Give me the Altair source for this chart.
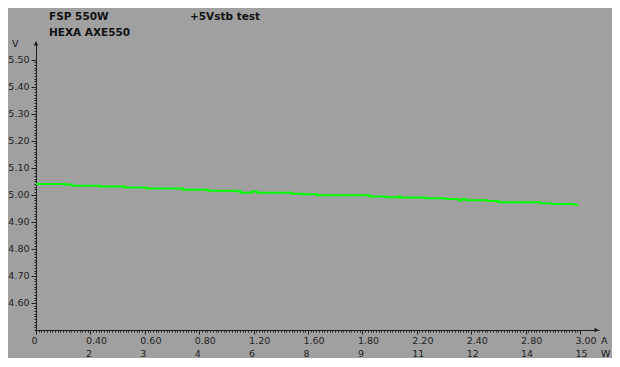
import json
import altair as alt
import numpy as np
import pandas as pd

# ---- data ----
current_a = [0.00, 0.16, 0.20, 0.35, 0.49, 0.61, 0.81, 0.95, 1.10, 1.13, 1.19, 1.22,
             1.41, 1.47, 1.55, 1.84, 1.93, 2.00, 2.01, 2.15, 2.26, 2.33, 2.35, 2.37,
             2.49, 2.55, 2.78, 2.84, 2.97, 2.99]
voltage_v = [5.040, 5.038, 5.034, 5.031, 5.027, 5.023, 5.019, 5.015, 5.013, 5.008,
             5.012, 5.008, 5.004, 5.002, 4.998, 4.994, 4.991, 4.995, 4.990, 4.987,
             4.985, 4.979, 4.985, 4.980, 4.977, 4.973, 4.969, 4.966, 4.963, 4.963]

x_tick_values = [0.0, 0.3, 0.6, 0.9, 1.2, 1.5, 1.8, 2.1, 2.4, 2.7, 3.0]
amp_labels = ["0", "0.40", "0.60", "0.80", "1.20", "1.60", "1.80", "2.20", "2.40", "2.80", "3.00"]
watt_labels = ["", "2", "3", "4", "6", "8", "9", "11", "12", "14", "15"]
y_tick_values = [4.6, 4.7, 4.8, 4.9, 5.0, 5.1, 5.2, 5.3, 5.4, 5.5]
title_left = ["FSP 550W", "HEXA AXE550"]
title_right = ["+5Vstb test"]
unit_labels = ["V", "A", "W"]

df = pd.DataFrame({"A": current_a, "V": voltage_v})

W, H = 563, 289
x_dom = [0, 3.105]
y_dom = [4.5, 5.569]
FONT = "DejaVu Sans"
DARK = "#1e1e1e"

label_expr = (
    f"[{json.dumps(amp_labels)}[round(datum.value/0.3)], "
    f"{json.dumps(watt_labels)}[round(datum.value/0.3)]]"
)

x_scale = alt.Scale(domain=x_dom, nice=False, zero=False)
y_scale = alt.Scale(domain=y_dom, nice=False, zero=False)

main = alt.Chart(df).mark_line(
    color="#00ff00", strokeWidth=2, interpolate="step-after"
).encode(
    x=alt.X("A:Q", scale=x_scale, axis=alt.Axis(
        orient="bottom", values=x_tick_values, labelExpr=label_expr, title=None,
        grid=False, tickSize=4, labelPadding=1, labelAlign="left", labelOffset=-5,
        labelBaseline="top", labelLineHeight=13.5, labelFont=FONT, labelFontSize=9.5,
        labelColor=DARK, domainColor=DARK, tickColor=DARK, labelFlush=False,
        labelOverlap=False)),
    y=alt.Y("V:Q", scale=y_scale, axis=alt.Axis(
        orient="left", values=y_tick_values, format=".2f", title=None, grid=False,
        tickSize=5, labelPadding=2, labelFont=FONT, labelFontSize=9.5,
        labelColor=DARK, domainColor=DARK, tickColor=DARK, labelFlush=False,
        labelOverlap=False)),
)

minor = alt.Chart(df).mark_line(opacity=0).encode(
    x=alt.X("A:Q", scale=x_scale, axis=alt.Axis(
        orient="bottom", values=[round(v, 4) for v in np.arange(0, 3.0001, 0.015)],
        labels=False, domain=False, grid=False, tickSize=2, tickColor=DARK, title=None)),
    y=alt.Y("V:Q", scale=y_scale, axis=alt.Axis(
        orient="left", values=[round(v, 3) for v in np.arange(4.5, 5.5001, 0.01)],
        labels=False, domain=False, grid=False, tickSize=2, tickColor=DARK, title=None)),
)

def text_layer(txt, x, y, bold=False, size=10.5, align="left"):
    return alt.Chart(pd.DataFrame({"t": [txt]})).mark_text(
        font=FONT, fontSize=size, fontWeight="bold" if bold else "normal",
        color="#111111", align=align, baseline="middle"
    ).encode(text="t:N", x=alt.value(x), y=alt.value(y))

arrow_up = alt.Chart(pd.DataFrame({"t": [0]})).mark_point(
    shape="triangle-up", filled=True, color=DARK, size=22, opacity=1
).encode(x=alt.value(0), y=alt.value(2.5))
arrow_right = alt.Chart(pd.DataFrame({"t": [0]})).mark_point(
    shape="triangle-right", filled=True, color=DARK, size=22, opacity=1
).encode(x=alt.value(W - 2.5), y=alt.value(H))

chart = alt.layer(
    main, minor,
    text_layer(title_left[0], 13, -24, bold=True),
    text_layer(title_left[1], 13, -8, bold=True),
    text_layer(title_right[0], 154, -24, bold=True),
    text_layer(unit_labels[0], -24, 3, size=9.5),
    text_layer(unit_labels[1], 565, H + 10.5, size=9.5),
    text_layer(unit_labels[2], 565, H + 24, size=9.5),
    arrow_up, arrow_right,
).resolve_axis(x="independent", y="independent").properties(
    width=W, height=H,
    autosize=alt.AutoSizeParams(type="none"),
    padding={"left": 28, "top": 33, "right": 13, "bottom": 28},
    background="#a0a0a0",
).configure_view(stroke=None)

chart.save("out.html", embed_options={"renderer": "svg", "actions": False})
